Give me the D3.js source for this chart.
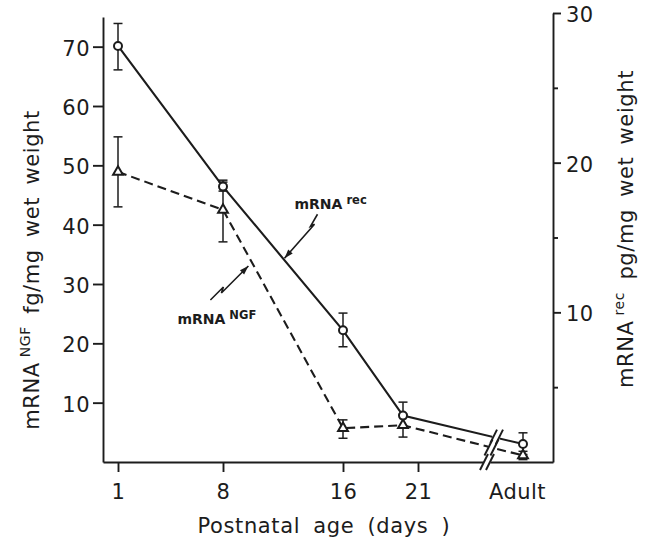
<!DOCTYPE html>
<html>
<head>
<meta charset="utf-8">
<script src="https://cdn.jsdelivr.net/npm/d3@7"></script>
<style>
    body { margin: 0; background: #fff; }
    svg text { font-family: "DejaVu Sans", sans-serif; fill: #1c1c1c; }
    .axis path, .axis line { stroke: #1c1c1c; stroke-width: 1.9; }
    .axis text { font-size: 21px; fill: #1c1c1c; font-family: "DejaVu Sans", sans-serif; letter-spacing: 0.5px; }
    .rec-line { fill: none; stroke: #1c1c1c; stroke-width: 2.1; }
    .ngf-line { fill: none; stroke: #1c1c1c; stroke-width: 2.1; stroke-dasharray: 9 5; }
    .err { stroke: #1c1c1c; stroke-width: 1.5; }
    .marker { fill: #fff; stroke: #1c1c1c; stroke-width: 2; }
    .ann { fill: none; stroke: #1c1c1c; stroke-width: 1.6; }
    .brk { fill: none; stroke: #1c1c1c; stroke-width: 1.9; }
    .ann-text { font-size: 14px; font-weight: bold; }
    .title { font-size: 21px; letter-spacing: 0.6px; }
</style>
</head>
<body>
<svg id="chart" width="646" height="539"></svg>
<script>
// x positions: days after birth, "Adult" drawn at 28 behind the axis break
const ageTickValues = [1, 8, 16, 21, 28];
const ageTickLabels = ['1', '8', '16', '21', 'Adult'];
const sampleDays = [1, 8, 16, 20, 28];

// mRNA rec, pg/mg wet weight (right axis) - circles, solid line
const recMean = [27.8, 18.4, 8.8, 3.1, 1.2];
const recLow  = [26.2, 18.1, 7.7, 2.3, 0.5];
const recHigh = [29.3, 18.7, 9.95, 4.0, 1.95];

// mRNA NGF, fg/mg wet weight (left axis) - triangles, dashed line
const ngfMean = [48.9, 42.5, 5.7, 6.2, 1.1];
const ngfLow  = [43.0, 37.1, 4.0, 4.2, 0.4];
const ngfHigh = [54.8, 47.5, 7.1, 8.0, 1.8];

const leftTicks = [10, 20, 30, 40, 50, 60, 70];
const rightTicks = [10, 20, 30];
const rightMinorTicks = [5, 15, 25];
const breakDay = 25.6;

const svg = d3.select('#chart');

const xScale = d3.scaleLinear().domain([0, 30]).range([103, 553]);
const yLeft = d3.scaleLinear().domain([0, 75]).range([462, 17]);
const yRight = d3.scaleLinear().domain([0, 30]).range([462, 13]);

// axes
const leftAxis = d3.axisLeft(yLeft).tickValues(leftTicks).tickSize(10).tickSizeOuter(0).tickPadding(3);
svg.append('g')
    .attr('class', 'axis')
    .attr('transform', 'translate(' + xScale(0) + ',0)')
    .call(leftAxis)
    .selectAll('text').attr('dy', '0.4em');

const rightAxis = d3.axisRight(yRight).tickValues(rightTicks).tickSize(8).tickSizeOuter(0).tickPadding(5);
svg.append('g')
    .attr('class', 'axis')
    .attr('transform', 'translate(' + xScale(30) + ',0)')
    .call(rightAxis)
    .selectAll('text').attr('dy', '0.4em');

svg.append('g')
    .attr('class', 'axis')
    .attr('transform', 'translate(' + xScale(30) + ',0)')
    .call(d3.axisRight(yRight).tickValues(rightMinorTicks).tickSize(5).tickFormat(''))
    .select('.domain').remove();

const bottomAxis = d3.axisBottom(xScale)
    .tickValues(ageTickValues)
    .tickFormat((d, i) => ageTickLabels[i])
    .tickSize(10)
    .tickSizeOuter(0)
    .tickPadding(12);
const gx = svg.append('g')
    .attr('class', 'axis')
    .attr('transform', 'translate(0,' + yLeft(0) + ')')
    .call(bottomAxis);
// no tick for Adult, label sits a bit left
gx.selectAll('.tick').filter(d => d === 28).select('line').remove();
gx.selectAll('.tick').filter(d => d === 28).select('text').attr('x', -6);

// break marks: a white gap and two slashes
function drawBreak(cx, cy) {
    svg.append('rect')
        .attr('x', cx - 3.5).attr('y', cy - 5)
        .attr('width', 7).attr('height', 10)
        .attr('fill', '#fff');
    [-3, 3].forEach(dx => {
        svg.append('line')
            .attr('class', 'brk')
            .attr('x1', cx + dx - 4).attr('y1', cy + 8)
            .attr('x2', cx + dx + 4).attr('y2', cy - 8);
    });
}

// lines
const recLine = d3.line()
    .x((d, i) => xScale(sampleDays[i]))
    .y(d => yRight(d));
const ngfLine = d3.line()
    .x((d, i) => xScale(sampleDays[i]))
    .y(d => yLeft(d));

svg.append('path').attr('class', 'ngf-line').attr('d', ngfLine(ngfMean));
svg.append('path').attr('class', 'rec-line').attr('d', recLine(recMean));

// point on a series line at a given day
function onLine(values, scale, day) {
    const i = d3.bisectRight(sampleDays, day) - 1;
    const t = (day - sampleDays[i]) / (sampleDays[i + 1] - sampleDays[i]);
    return [xScale(day), scale(values[i] + t * (values[i + 1] - values[i]))];
}

const recBreak = onLine(recMean, yRight, breakDay + 0.6);
drawBreak(recBreak[0], recBreak[1]);
const ngfBreak = onLine(ngfMean, yLeft, breakDay + 0.3);
drawBreak(ngfBreak[0], ngfBreak[1]);
drawBreak(xScale(breakDay), yLeft(0));

// error bars
function errorBars(low, high, scale) {
    const g = svg.append('g');
    sampleDays.forEach((day, i) => {
        const x = xScale(day);
        g.append('line').attr('class', 'err')
            .attr('x1', x).attr('x2', x)
            .attr('y1', scale(low[i])).attr('y2', scale(high[i]));
        [low[i], high[i]].forEach(v => {
            g.append('line').attr('class', 'err')
                .attr('x1', x - 4.5).attr('x2', x + 4.5)
                .attr('y1', scale(v)).attr('y2', scale(v));
        });
    });
}
errorBars(ngfLow, ngfHigh, yLeft);
errorBars(recLow, recHigh, yRight);

// markers
svg.append('g').selectAll('path')
    .data(ngfMean)
    .join('path')
    .attr('class', 'marker')
    .attr('d', d3.symbol(d3.symbolTriangle, 42))
    .attr('transform', (d, i) => 'translate(' + xScale(sampleDays[i]) + ',' + yLeft(d) + ')');

svg.append('g').selectAll('circle')
    .data(recMean)
    .join('circle')
    .attr('class', 'marker')
    .attr('r', 4)
    .attr('cx', (d, i) => xScale(sampleDays[i]))
    .attr('cy', d => yRight(d));

// zigzag annotation arrows, tip anchored on the series line
function zigArrow(tip, pts) {
    const abs = pts.map(p => [tip[0] + p[0], tip[1] + p[1]]);
    abs.push(tip);
    svg.append('path').attr('class', 'ann').attr('d', d3.line()(abs));
    const from = abs[abs.length - 2];
    const ang = Math.atan2(tip[1] - from[1], tip[0] - from[0]);
    const len = 9, half = 3;
    const bx = tip[0] - len * Math.cos(ang), by = tip[1] - len * Math.sin(ang);
    const head = [
        tip,
        [bx + half * Math.sin(ang), by - half * Math.cos(ang)],
        [bx - half * Math.sin(ang), by + half * Math.cos(ang)]
    ];
    svg.append('path').attr('d', d3.line()(head) + 'Z').attr('fill', '#1c1c1c');
    return abs[0];
}

function label(x, y, main, sup) {
    const t = svg.append('text').attr('class', 'ann-text').attr('x', x).attr('y', y);
    t.append('tspan').text(main);
    t.append('tspan').attr('dx', 4).attr('dy', -5).attr('font-size', 11.5).text(sup);
}

const recTip = onLine(recMean, yRight, 12.1);
const recStart = zigArrow([recTip[0], recTip[1] - 2], [[33, -44], [26, -32], [30, -34]]);
label(recStart[0] - 23, recStart[1] - 5, 'mRNA', 'rec');

const ngfTip = onLine(ngfMean, yLeft, 10.06);
const ngfStart = zigArrow([ngfTip[0] - 5.5, ngfTip[1]], [[-38, 34], [-25, 21], [-27, 27]]);
label(ngfStart[0] - 33, ngfStart[1] + 24, 'mRNA', 'NGF');

// axis titles
function axisTitle(x, y, main, sup, rest) {
    const t = svg.append('text')
        .attr('class', 'title')
        .attr('text-anchor', 'middle')
        .attr('transform', 'translate(' + x + ',' + y + ') rotate(-90)')
        .style('word-spacing', '5px');
    t.append('tspan').text(main);
    t.append('tspan').attr('dx', 5).attr('dy', -9).attr('font-size', 14).text(sup);
    t.append('tspan').attr('dy', 9).text(rest);
}
axisTitle(39, 270, 'mRNA', 'NGF', ' fg/mg wet weight');
axisTitle(633, 229, 'mRNA', 'rec', '  pg/mg wet weight');

svg.append('text')
    .attr('class', 'title')
    .attr('text-anchor', 'middle')
    .attr('x', 324)
    .attr('y', 533)
    .style('word-spacing', '6px')
    .text('Postnatal age (days )');
</script>
</body>
</html>
